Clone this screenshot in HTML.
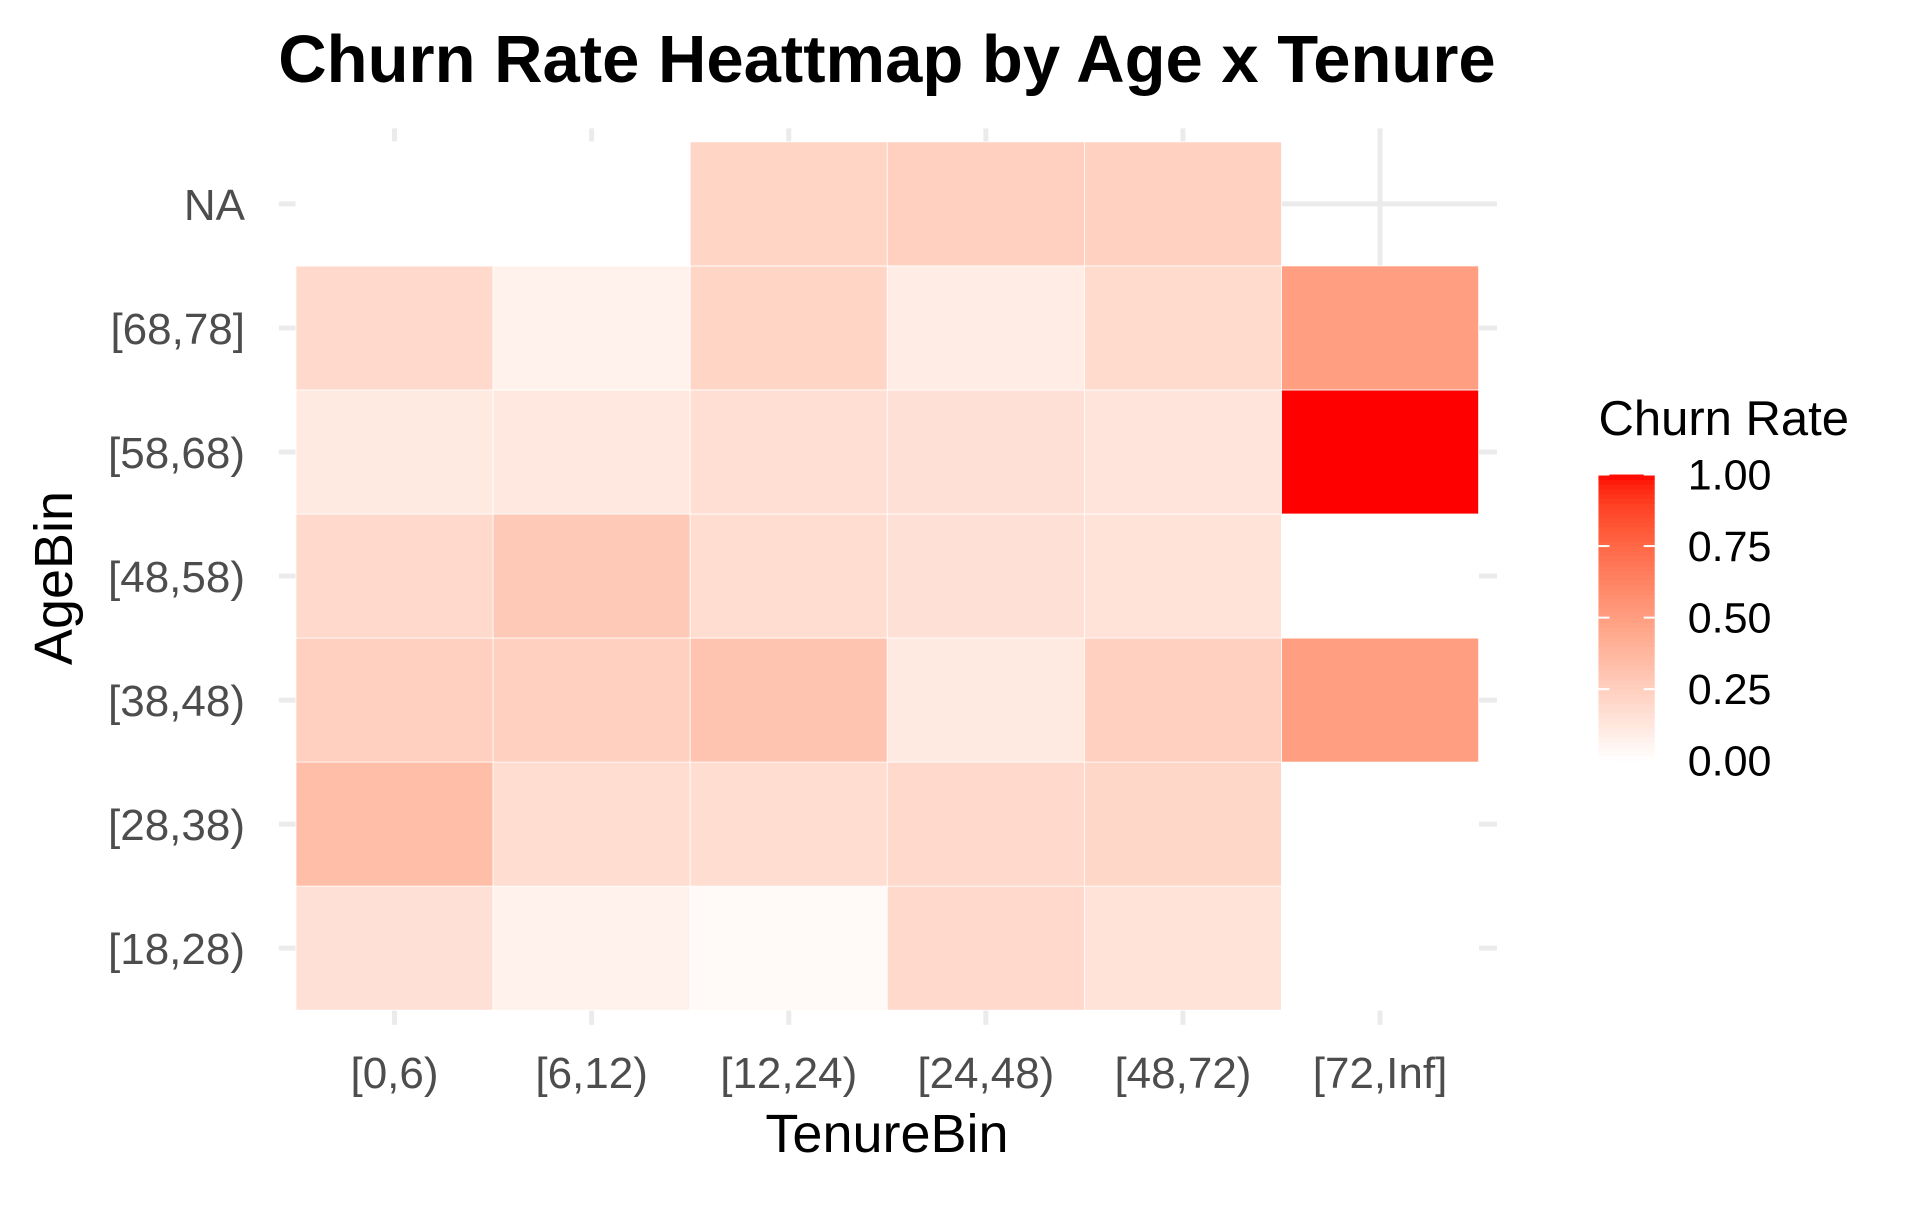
<!DOCTYPE html>
<html><head><meta charset="utf-8"><style>
body{margin:0;background:#fff;}
svg text{font-family:"Liberation Sans",sans-serif;}
</style></head><body>
<svg id="c" width="1920" height="1200" xmlns="http://www.w3.org/2000/svg">
<text x="887" y="82" text-anchor="middle" font-size="67" font-weight="bold" fill="#000">Churn Rate Heattmap by Age x Tenure</text>
<g id="grid"></g>
<g id="cells"></g>
<g id="xlabels"></g>
<g id="ylabels"></g>
<text x="887" y="1152" text-anchor="middle" font-size="54" fill="#000">TenureBin</text>
<text transform="translate(72,578) rotate(-90)" text-anchor="middle" font-size="54" fill="#000">AgeBin</text>
<g id="legend"></g>
</svg>
<script>
const xCats = ["[0,6)","[6,12)","[12,24)","[24,48)","[48,72)","[72,Inf]"];
const yCats = ["[18,28)","[28,38)","[38,48)","[48,58)","[58,68)","[68,78]","NA"];
// null = NA-valued tile (drawn white); "none" = no tile
const row18 = [0.16,0.07,0.03,0.20,0.15,null];
const row28 = [0.34,0.18,0.18,0.20,0.21,null];
const row38 = [0.25,0.25,0.31,0.11,0.25,0.50];
const row48 = [0.20,0.28,0.18,0.16,0.15,null];
const row58 = [0.11,0.12,0.17,0.16,0.14,1.0];
const row68 = [0.20,0.07,0.22,0.10,0.19,0.50];
const rowNA = [null,null,0.22,0.25,0.24,"none"];
const rows = [row18,row28,row38,row48,row58,row68,rowNA];
const legendTicks = [0,0.25,0.5,0.75,1.0];
const legendLabels = ["0.00","0.25","0.50","0.75","1.00"];

const NS="http://www.w3.org/2000/svg";
const S=1.223;
const L=242*S,R=1209*S,T=116*S,B=826*S;
const cw=(R-L)/xCats.length, ch=(B-T)/yCats.length;
const xc=i=>L+cw*(i+0.5);
const yc=j=>B-ch*(j+0.5);
function col(v){
  const Lr=100+(53.24-100)*v, a=80.09*v, b=67.2*v;
  const fy=(Lr+16)/116, fx=fy+a/500, fz=fy-b/200;
  const f=t=>t>0.206893?t*t*t:(t-16/116)/7.787;
  const X=0.95047*f(fx),Y=f(fy),Z=1.08883*f(fz);
  let r=3.2406*X-1.5372*Y-0.4986*Z, g=-0.9689*X+1.8758*Y+0.0415*Z, bb=0.0557*X-0.2040*Y+1.0570*Z;
  const gm=c=>{c=Math.max(0,Math.min(1,c));return Math.round(255*(c<=0.0031308?12.92*c:1.055*Math.pow(c,1/2.4)-0.055));};
  return `rgb(${gm(r)},${gm(g)},${gm(bb)})`;
}
function mk(t,a,p){const e=document.createElementNS(NS,t);for(const k in a)e.setAttribute(k,a[k]);p.appendChild(e);return e;}
const grid=document.getElementById('grid');
xCats.forEach((c,i)=>{const e=mk('line',{x1:xc(i),x2:xc(i),y1:105*S,y2:838*S,stroke:'#EBEBEB','stroke-width':5},grid);

});
yCats.forEach((c,j)=>{const e=mk('line',{x1:228*S,x2:1224*S,y1:yc(j),y2:yc(j),stroke:'#EBEBEB','stroke-width':5},grid);

});
const cells=document.getElementById('cells');
rows.forEach((r,j)=>r.forEach((v,i)=>{if(v==="none")return;
const e=mk('rect',{x:L+cw*i,y:B-ch*(j+1),width:cw,height:ch,fill:v===null?'#ffffff':col(v),stroke:'#fff','stroke-width':0.8},cells);

}));
const xl=document.getElementById('xlabels');
xCats.forEach((c,i)=>{const e=mk('text',{x:xc(i),y:1088,'text-anchor':'middle','font-size':44,fill:'#4D4D4D'},xl);e.textContent=c;

});
const yl=document.getElementById('ylabels');
yCats.forEach((c,j)=>{const e=mk('text',{x:245,y:yc(j)+16,'text-anchor':'end','font-size':44,fill:'#4D4D4D'},yl);e.textContent=c;

});
const lg=document.getElementById('legend');
const lt=mk('text',{x:1307*S,y:435,'font-size':49,fill:'#000'},lg);lt.textContent="Churn Rate";


const bT=388*S,bB=622*S,bL=1307*S,bW=46*S;
for(let k=0;k<60;k++){const v0=k/60;const e=mk('rect',{x:bL,y:bB-(k+1)*(bB-bT)/60,width:bW,height:(bB-bT)/60+0.6,fill:col(v0+1/120)},lg);

}
legendTicks.forEach((v,k)=>{const y=bB-v*(bB-bT);
const t1=mk('line',{x1:bL,x2:bL+11,y1:y,y2:y,stroke:'#fff','stroke-width':2},lg);


const t2=mk('line',{x1:bL+bW-11,x2:bL+bW,y1:y,y2:y,stroke:'#fff','stroke-width':2},lg);


const e=mk('text',{x:1380*S,y:y+15,'font-size':43,fill:'#000'},lg);e.textContent=legendLabels[k];

});
</script>
</body></html>
